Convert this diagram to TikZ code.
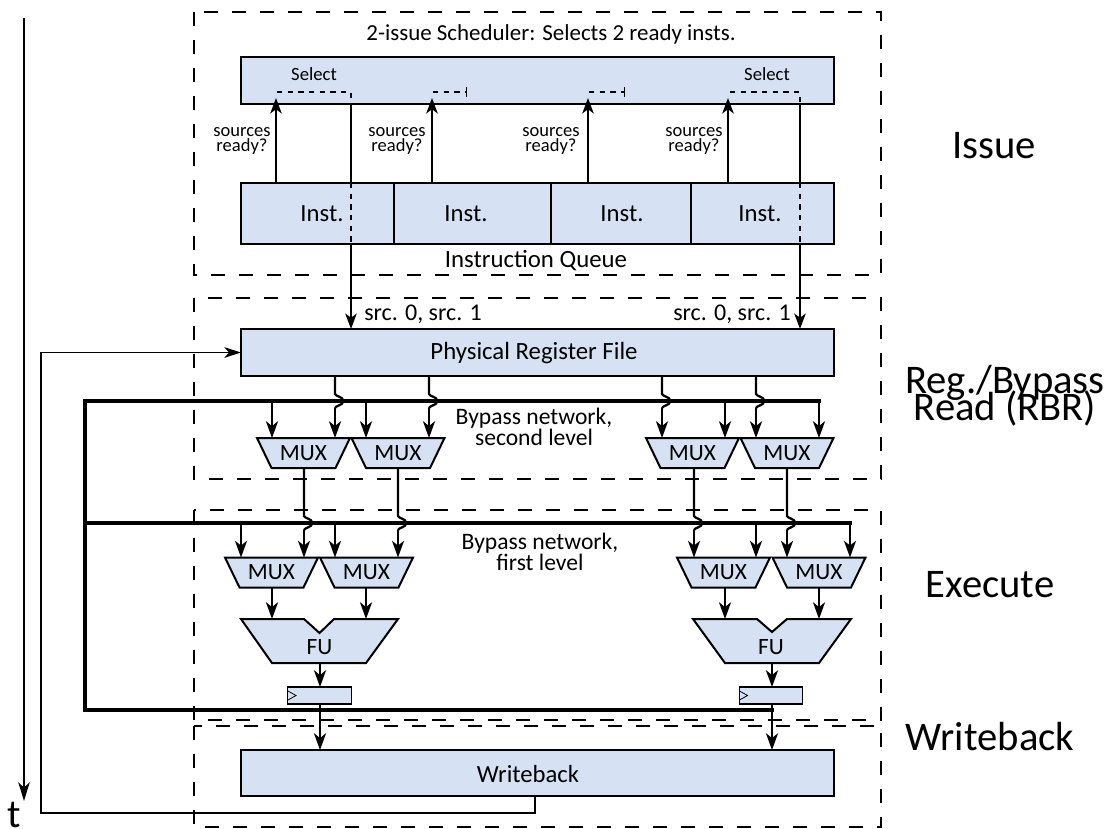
\documentclass[tikz,border=0pt]{standalone}
\usepackage{fontspec}
\setmainfont{Carlito}
\usetikzlibrary{arrows.meta}
\definecolor{boxfill}{HTML}{D6E1F3}
\newcommand{\fs}[1]{\fontsize{#1}{#1}\selectfont}
\newcommand{\fsl}[2]{\fontsize{#1}{#2}\selectfont\lineskiplimit=-100pt\relax}
\tikzset{
  block/.style={draw=black,fill=boxfill,line width=1.7pt,minimum height=#1*0.75pt,inner sep=0pt,outer sep=0pt,minimum width=444.75pt},
  cell/.style={inner sep=0pt,outer sep=0pt},
  muxshape/.style={draw=black,fill=boxfill,line width=1.5pt,line join=miter},
  muxlabel/.style={minimum width=69.5pt,minimum height=22.5pt,inner sep=0pt,outer sep=0pt,font=\fs{17.5}},
  section/.style={draw=black,line width=1.2pt,dash pattern=on 10.5pt off 10.5pt},
  wire/.style={draw=black,line width=1.7pt,-{Stealth[length=11.5pt,width=8.5pt,inset=3pt]}},
  timewire/.style={draw=black,line width=1.7pt,-{Stealth[length=14pt,width=8.5pt,inset=4pt]}},
  plain/.style={draw=black,line width=1.7pt},
  thinwire/.style={draw=black,line width=1.6pt,-{Stealth[length=12.5pt,width=9pt,inset=3.5pt]}},
  fbwire/.style={draw=black,line width=1.2pt,-{Stealth[length=12.5pt,width=8pt,inset=3.5pt]}},
  bus/.style={draw=black,line width=3.2pt,line cap=rect},
  finedash/.style={draw=black,line width=1.5pt,dash pattern=on 4pt off 4pt},
  lbl/.style={inner sep=0pt,outer sep=0pt,align=center},
  side/.style={lbl,font=\fsl{30.5}{20}},
}
\newcommand{\hop}[2]{(#1,#2-7) .. controls (#1,#2-5) and (#1+8,#2-4) .. (#1+8,#2-1) -- (#1+8,#2+1) .. controls (#1+8,#2+4) and (#1,#2+5) .. (#1,#2+7)}
\newcommand{\muxnode}[3]{%
  \path[muxshape] (#2-46.5,#3-15) -- (#2+46.5,#3-15) -- (#2+32,#3+15) -- (#2-32,#3+15) -- cycle;
  \node[muxlabel] (#1) at (#2,#3) {\raisebox{-1pt}{MUX}};}
\begin{document}
\begin{tikzpicture}[x=0.75pt,y=-0.75pt]
\useasboundingbox (0,0) rectangle (1109,828);
% sections
\draw[section] (194,12) rectangle (881,275);
\draw[section] (194,298) rectangle (881,479);
\draw[section] (194,510) rectangle (881,720);
\draw[section] (194,726) rectangle (881,827);
% blocks
\node[block=47,font=\fs{18.6}] (sched) at (537.5,80.5) {};
\node[block=61] (queue) at (537.5,213.5) {};
\node[block=47,font=\fs{18.6}] (prf) at (537.5,352.5) {};
\node[block=46,font=\fs{18.5}] (wb) at (537.5,773) {};
\node[cell,font=\fs{18.6}] (prft) at (534,353.5) {Physical Register File};
\node[cell,font=\fs{18.5}] (wbt) at (528,774.5) {Writeback};
\coordinate (d1t) at (394,183); \coordinate (d2t) at (551,183); \coordinate (d3t) at (691,183);
\draw[plain] (d1t) -- (d1t |- queue.south);
\draw[plain] (d2t) -- (d2t |- queue.south);
\draw[plain] (d3t) -- (d3t |- queue.south);
\node[cell,font=\fs{18.5}] (i1) at (322,213.5) {Inst.};
\node[cell,font=\fs{18.5}] (i2) at (466,213.5) {Inst.};
\node[cell,font=\fs{18.5}] (i3) at (622,213.5) {Inst.};
\node[cell,font=\fs{18.5}] (i4) at (760,213.5) {Inst.};
% scheduler internals
\node[lbl,font=\fs{14}] (s1) at (314,74) {Select};
\node[lbl,font=\fs{14}] (s2) at (767,74) {Select};
\node[lbl,font=\fsl{13.9}{11.25}] (r1) at (242,140.5) {sources\\ready?};
\node[lbl,font=\fsl{13.9}{11.25}] (r2) at (397,140.5) {sources\\ready?};
\node[lbl,font=\fsl{13.9}{11.25}] (r3) at (551,140.5) {sources\\ready?};
\node[lbl,font=\fsl{13.9}{11.25}] (r4) at (694,140.5) {sources\\ready?};
\foreach \x in {276,432,588,728}
  \draw[wire] (\x,0 |- queue.north) -- (\x,98);
\draw[finedash] (277,92) -- (351,92) -- (351,0 |- sched.south);
\draw[finedash] (730,92) -- (800,92) -- (800,0 |- sched.south);
\draw[finedash] (433,92) -- (466,92);
\draw[finedash] (589,92) -- (624,92);
\draw[draw=black,line width=0.8pt] (466.5,87) -- (466.5,97);
\draw[draw=black,line width=0.8pt] (624.5,87) -- (624.5,97);
\foreach \x in {351,800}{
  \draw[plain] (\x,0 |- sched.south) -- (\x,0 |- queue.north);
  \draw[finedash] (\x,0 |- queue.north) -- (\x,0 |- queue.south);
  \draw[wire] (\x,0 |- queue.south) -- (\x,0 |- prf.north);
}
% text
\node[lbl,font=\fs{17.2}] (title) at (551,34) {2-issue Scheduler: Selects 2 ready insts.};
\node[lbl,font=\fs{18.6}] (iq) at (536,260.5) {Instruction Queue};
\node[lbl,font=\fs{18}] (src1) at (423,314) {src. 0, src. 1};
\node[lbl,font=\fs{18}] (src2) at (732,314) {src. 0, src. 1};
\node[lbl,font=\fsl{17.7}{15.75}] (by2) at (534,427) {Bypass network,\\second level};
\node[lbl,font=\fsl{17.7}{15.75}] (by1) at (540,552) {Bypass network,\\first level};
\node[side] (lissue) at (994,146) {Issue};
\node[side] (lrbr) at (1005,396) {Reg./Bypass\\Read (RBR)};
\node[side] (lexec) at (990,585) {Execute};
\node[side] (lwb) at (990,737) {Writeback};
\node[lbl,font=\fs{30}] (t) at (14,815) {t};
% time arrow
\coordinate (t0) at (24,18);
\coordinate (t1) at (24,801);
\draw[timewire] (t0) -- (t1);
% feedback
\coordinate (fb1) at (535,813);
\draw[fbwire] (535,0 |- wb.south) -- (fb1) -- (41,813) -- (41,0 |- prf.west) -- (prf.west);
% buses
\draw[bus] (819,401) -- (85,401) -- (85,710) -- (772,710);
\draw[bus,line width=2.9pt] (85,523) -- (850,523);
% muxes
\muxnode{m21}{303.5}{453}
\muxnode{m22}{398}{453}
\muxnode{m23}{692.5}{453}
\muxnode{m24}{787}{453}
\muxnode{m11}{271.5}{572.5}
\muxnode{m12}{366.5}{572.5}
\muxnode{m13}{723.5}{572.5}
\muxnode{m14}{819}{572.5}
% second level inputs
\foreach \x/\m in {272/m21,366/m22,725/m23,819/m24}
  \draw[thinwire] (\x,401) -- (\x,0 |- \m.north);
\foreach \x/\m in {335/m21,429/m22,662/m23,756/m24}{
  \draw[plain] (\x,0 |- prf.south) -- \hop{\x}{401};
  \draw[thinwire] (\x,408) -- (\x,0 |- \m.north);
}
% first level inputs
\foreach \x/\m in {241/m11,335/m12,756/m13,850/m14}
  \draw[thinwire] (\x,523) -- (\x,0 |- \m.north);
\foreach \x/\a/\m in {304/m21/m11,398/m22/m12,694/m23/m13,787/m24/m14}{
  \draw[plain] (\x,0 |- \a.south) -- \hop{\x}{523};
  \draw[thinwire] (\x,530) -- (\x,0 |- \m.north);
}
% FU
\path[muxshape] (241,619) -- (304,619) -- (319.5,633) -- (334,619) -- (398,619) -- (366,663) -- (272,663) -- cycle;
\path[muxshape] (693,619) -- (757,619) -- (772,632) -- (787,619) -- (851,619) -- (819,663) -- (725,663) -- cycle;
\node[cell,font=\fs{17.5}] (fu1) at (319.5,647.5) {FU};
\node[cell,font=\fs{17.5}] (fu2) at (771,647.5) {FU};
\coordinate (fu1b) at (320,663);
\coordinate (fu2b) at (772,663);
\foreach \x/\m in {272/m11,366/m12,725/m13,819/m14}
  \draw[thinwire] (\x,0 |- \m.south) -- (\x,619);
% registers
\node[draw=black,fill=boxfill,line width=0.9pt,minimum width=47.5pt,minimum height=12.75pt,inner sep=0pt,outer sep=0pt] (reg1) at (319.5,695.5) {};
\node[draw=black,fill=boxfill,line width=0.9pt,minimum width=47.5pt,minimum height=12.75pt,inner sep=0pt,outer sep=0pt] (reg2) at (771,695.5) {};
\draw[draw=black,line width=0.6pt] (288,691) -- (296,695.5) -- (288,700);
\draw[draw=black,line width=0.6pt] (739.5,691) -- (747.5,695.5) -- (739.5,700);
\draw[thinwire] (fu1b) -- (fu1b |- reg1.north);
\draw[thinwire] (fu2b) -- (fu2b |- reg2.north);
\draw[thinwire] (320,0 |- reg1.south) -- (320,0 |- wb.north);
\draw[thinwire] (772,0 |- reg2.south) -- (772,0 |- wb.north);
\end{tikzpicture}
\end{document}
